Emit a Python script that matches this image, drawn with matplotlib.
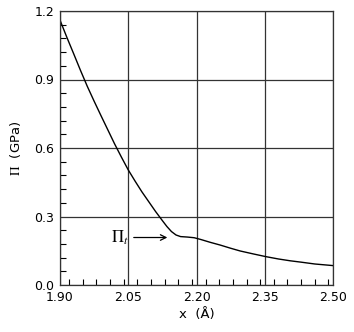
import numpy as np
import matplotlib
matplotlib.use("Agg")
import matplotlib.pyplot as plt
from matplotlib.ticker import MultipleLocator

plt.rcParams['mathtext.fontset'] = 'stix'

# curve
x = [1.900, 1.915, 1.930, 1.945, 1.960, 1.975, 1.990, 2.005, 2.020, 2.035,
     2.050, 2.065, 2.080, 2.095, 2.110, 2.125, 2.135, 2.145, 2.155, 2.165,
     2.180, 2.195, 2.210, 2.230, 2.252, 2.275, 2.296, 2.325, 2.353, 2.380,
     2.406, 2.430, 2.460, 2.500]
pi = [1.160, 1.085, 1.013, 0.940, 0.870, 0.805, 0.742, 0.680, 0.618, 0.560,
      0.504, 0.455, 0.408, 0.365, 0.322, 0.282, 0.256, 0.234, 0.219, 0.212,
      0.210, 0.207, 0.199, 0.187, 0.175, 0.161, 0.149, 0.136, 0.124, 0.114,
      0.106, 0.100, 0.092, 0.085]

xticks = [1.90, 2.05, 2.20, 2.35, 2.50]
yticks = [0.0, 0.3, 0.6, 0.9, 1.2]

fig = plt.figure(figsize=(3.54, 3.32), dpi=100)
ax = fig.add_axes([60/354, 1 - 285/332, 273/354, 274/332])

ax.plot(x, pi, color="black", lw=1.0)

ax.set_xlim(1.90, 2.50)
ax.set_ylim(0.0, 1.2)
ax.set_xticks(xticks)
ax.set_xticklabels(["%.2f" % v for v in xticks])
ax.set_yticks(yticks)
ax.set_yticklabels(["%.1f" % v for v in yticks])
ax.xaxis.set_minor_locator(MultipleLocator(0.03))
ax.yaxis.set_minor_locator(MultipleLocator(0.06))
ax.grid(True, which="major", color="#333333", lw=0.9)
ax.tick_params(which="major", length=0, labelsize=9, pad=4)
ax.tick_params(which="minor", direction="in", length=4, width=0.8)
for s in ax.spines.values():
    s.set_linewidth(0.9)
    s.set_color("#333333")

ax.set_xlabel("x  (Å)", fontsize=9.5, labelpad=3)
ax.set_ylabel(r"$\Pi$  (GPa)", fontsize=9.5, labelpad=8)

ax.annotate("", xy=(2.142, 0.208), xytext=(2.056, 0.208),
            arrowprops=dict(arrowstyle="->", color="black", lw=0.9))
ax.text(2.052, 0.208, r"$\Pi_t$", fontsize=12, ha="right", va="center")

fig.savefig("out.png", dpi=100)
